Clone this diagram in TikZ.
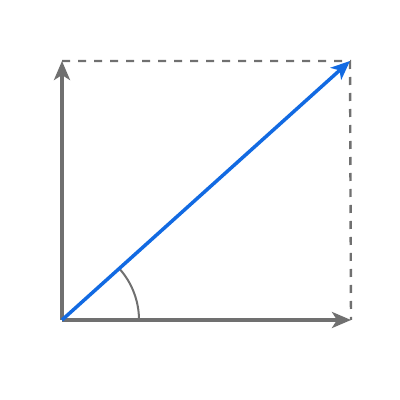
\documentclass[tikz,border=0pt]{standalone}
\usetikzlibrary{arrows.meta}
\definecolor{axgray}{RGB}{112,112,112}
\definecolor{vecblue}{RGB}{18,106,226}
\begin{document}
\begin{tikzpicture}[x=1pt,y=1pt,
  axis/.style={axgray,line width=3.5pt,-{Stealth[length=19pt,width=16pt,inset=5pt]}},
  vec/.style={vecblue,line width=3.5pt,-{Stealth[length=19pt,width=16pt,inset=5pt]}},
  guide/.style={axgray,line width=2.4pt,dash pattern=on 8pt off 8pt},
  anglearc/.style={axgray,line width=2pt}]
\useasboundingbox (0,0) rectangle (400,400);
\coordinate (O) at (62,80);
\coordinate (X) at (351,80);
\coordinate (Y) at (62,339);
\coordinate (P) at (350,339);
\coordinate (A) at (139,80);
\draw[guide] (Y) -- (P) -- (X);
\draw[axis] (O) -- (X);
\draw[axis] (O) -- (Y);
\draw[anglearc] (A) arc[start angle=0,end angle=41.97,radius=77];
\draw[vec] (O) -- (P);
\end{tikzpicture}
\end{document}
